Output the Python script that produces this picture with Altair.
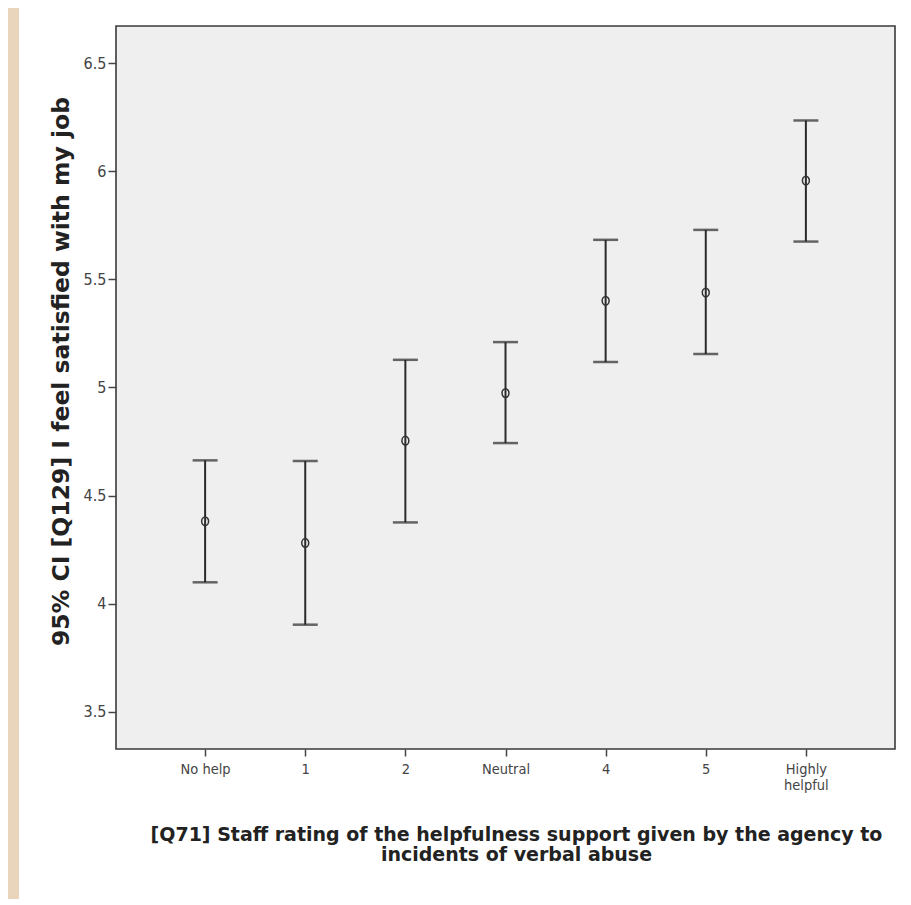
import altair as alt
import pandas as pd

categories = ["No help", "1", "2", "Neutral", "4", "5", "Highly helpful"]
means = [4.381, 4.281, 4.754, 4.974, 5.401, 5.439, 5.957]
lowers = [4.099, 3.903, 4.376, 4.743, 5.118, 5.155, 5.675]
uppers = [4.663, 4.660, 5.128, 5.210, 5.683, 5.729, 6.235]
y_ticks = [3.5, 4.0, 4.5, 5.0, 5.5, 6.0, 6.5]

df = pd.DataFrame({"cat": categories, "mean": means, "lo": lowers, "hi": uppers})

W, H = 779, 723
NARROW = "Liberation Sans Narrow, DejaVu Sans Condensed, Arial Narrow, sans-serif"

x_enc = alt.X(
    "cat:N",
    sort=categories,
    scale=alt.Scale(type="point", padding=0.89),
    axis=alt.Axis(
        title=["[Q71] Staff rating of the helpfulness support given by the  agency to",
               "incidents of verbal abuse"],
        titleFont="DejaVu Sans, sans-serif",
        titleFontSize=19, titleFontWeight="bold", titleColor="#222",
        titleX=400, titleY=76, titleBaseline="top", titleLineHeight=20,
        labelFont=NARROW, labelFontSize=14.5, labelColor="#444", labelAngle=0,
        labelPadding=6, labelLineHeight=16,
        labelExpr="datum.label == 'Highly helpful' ? ['Highly', 'helpful'] : datum.label",
        tickColor="#444", tickSize=7, tickWidth=1.5, domain=False, grid=False,
        zindex=1,
    ),
)
y_scale = alt.Scale(domain=[3.328, 6.672], nice=False, zero=False)

bg_white = alt.Chart(alt.Data(values=[{}])).mark_rect(color="white").encode(
    x=alt.value(-97), x2=alt.value(820), y=alt.value(-40), y2=alt.value(900)
)
plot_box = alt.Chart(alt.Data(values=[{}])).mark_rect(
    fill="#efefef", stroke="#3a3a3a", strokeWidth=1.6
).encode(x=alt.value(0), x2=alt.value(W), y=alt.value(0), y2=alt.value(H))

rules = alt.Chart(df).mark_rule(color="#2a2a2a", strokeWidth=2).encode(
    x=x_enc,
    y=alt.Y("lo:Q", scale=y_scale, axis=alt.Axis(
        title="95% CI [Q129] I feel satisfied with my job",
        titleFont="DejaVu Sans, sans-serif", titleFontSize=23.5, titleFontWeight="bold",
        titleColor="#222", titlePadding=10, titleY=345,
        values=y_ticks, format="~g",
        labelFont=NARROW, labelFontSize=16, labelColor="#444", labelPadding=2,
        tickColor="#444", tickSize=8, tickWidth=1.5, domain=False, grid=False,
        zindex=1,
    )),
    y2="hi:Q",
)
caps_lo = alt.Chart(df).mark_tick(color="#2a2a2a", thickness=2.5, size=25, orient="horizontal").encode(
    x=alt.X("cat:N", sort=categories), y=alt.Y("lo:Q")
)
caps_hi = alt.Chart(df).mark_tick(color="#2a2a2a", thickness=2.5, size=25, orient="horizontal").encode(
    x=alt.X("cat:N", sort=categories), y=alt.Y("hi:Q")
)
points = alt.Chart(df).mark_point(
    shape="M -0.8,0 A 0.8,1 0 1,1 0.8,0 A 0.8,1 0 1,1 -0.8,0 Z",
    filled=False, size=75, strokeWidth=1.5, color="#333", opacity=1,
).encode(x=alt.X("cat:N", sort=categories), y=alt.Y("mean:Q"))

chart = alt.layer(bg_white, plot_box, rules, caps_lo, caps_hi, points).properties(
    width=W, height=H,
    autosize=alt.AutoSizeParams(type="none"),
    padding={"left": 108, "top": 18, "right": 8, "bottom": 150},
    background="#e8d5bb",
).configure_view(stroke=None)

chart.save("out.html", embed_options={"renderer": "svg", "actions": False})
